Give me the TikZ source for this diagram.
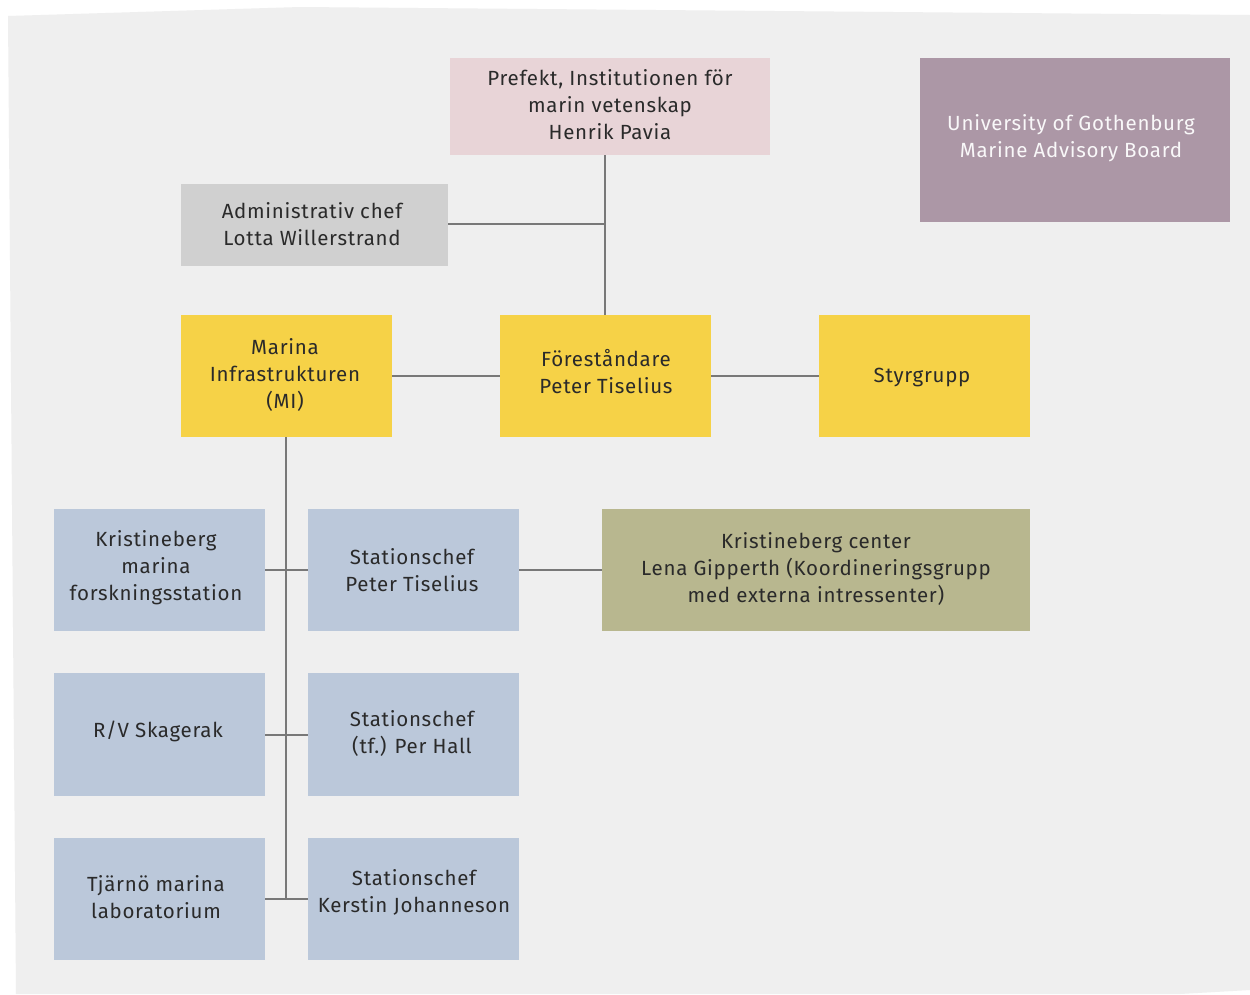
\documentclass[tikz,border=0pt]{standalone}
\usepackage{fontspec}
\setmainfont{Fira Sans}[LetterSpace=3.5]
\definecolor{bgc}{HTML}{EFEFEF}
\definecolor{pinkc}{HTML}{E8D4D7}
\definecolor{mauvec}{HTML}{AC97A6}
\definecolor{greyc}{HTML}{D0D0D0}
\definecolor{yelc}{HTML}{F6D247}
\definecolor{bluec}{HTML}{BBC8DA}
\definecolor{olivec}{HTML}{B8B78F}
\definecolor{linec}{HTML}{787878}
\definecolor{txtc}{HTML}{2A2A2A}
\begin{document}
\begin{tikzpicture}[x=1pt,y=-1pt,
  box/.style={draw=none,inner sep=0pt,align=center,text=txtc,
    font=\fontsize{20.5}{27}\selectfont},
  conn/.style={draw=linec,line width=2pt}]
\useasboundingbox (0,0) rectangle (1250,994);
\fill[white] (0,0) rectangle (1250,994);
\fill[bgc] (8,16) -- (300,7) -- (1250,15) -- (1250,990) -- (1180,994) -- (16,994) -- cycle;
% boxes
\newcommand\orgbox[6]{% name, color, x1,y1,x2,y2
  \path[fill=#2] (#3,#4) rectangle (#5,#6);
  \coordinate (#1-nw) at (#3,#4);
  \coordinate (#1-se) at (#5,#6);
}
\orgbox{pre}{pinkc}{450}{58}{770}{155}
\orgbox{mab}{mauvec}{920}{58}{1230}{222}
\orgbox{adm}{greyc}{181}{184}{448}{266}
\orgbox{mi}{yelc}{181}{315}{392}{437}
\orgbox{fo}{yelc}{500}{315}{711}{437}
\orgbox{sty}{yelc}{819}{315}{1030}{437}
\orgbox{kms}{bluec}{54}{509}{265}{631}
\orgbox{sc1}{bluec}{308}{509}{519}{631}
\orgbox{kc}{olivec}{602}{509}{1030}{631}
\orgbox{rv}{bluec}{54}{673}{265}{796}
\orgbox{sc2}{bluec}{308}{673}{519}{796}
\orgbox{tj}{bluec}{54}{838}{265}{960}
\orgbox{sc3}{bluec}{308}{838}{519}{960}
% text nodes
\node[box] (pre) at (610,105) {Prefekt, Institutionen för\\marin vetenskap\\Henrik Pavia};
\node[box,text=white!93!mauvec] (mab) at (1071,138) {University of Gothenburg\\Marine Advisory Board};
\node[box] (adm) at (312,224) {Administrativ chef\\Lotta Willerstrand};
\node[box] (mi) at (285,375) {Marina\\Infrastrukturen\\(MI)};
\node[box] (fo) at (606,372) {Föreståndare\\Peter Tiselius};
\node[box] (sty) at (922,377) {Styrgrupp};
\node[box] (kms) at (156,568) {Kristineberg\\marina\\forskningsstation};
\node[box] (sc1) at (412,570) {Stationschef\\Peter Tiselius};
\node[box] (kc) at (816,569) {Kristineberg center\\Lena Gipperth (Koordineringsgrupp\\med externa intressenter)};
\node[box] (rv) at (158,731) {R/V Skagerak};
\node[box] (sc2) at (412,733) {Stationschef\\(tf.) Per Hall};
\node[box] (tj) at (156,897) {Tjärnö marina\\laboratorium};
\node[box] (sc3) at (414,892) {Stationschef\\Kerstin Johanneson};
% connectors
\coordinate (j1) at (605,224);
\coordinate (mibot) at (286,437);
\coordinate (spine) at (286,899);
\coordinate (r1) at (286,570);
\coordinate (r2) at (286,735);
\draw[conn] (pre-nw -| j1) ++(0,97) -- (605,315) coordinate (fotop);
\draw[conn] (adm-se |- j1) -- (j1);
\draw[conn] (mi-se |- 0,376) -- (fo-nw |- 0,376);
\draw[conn] (fo-se |- 0,376) -- (sty-nw |- 0,376);
\draw[conn] (mibot) -- (spine);
\draw[conn] (kms-se |- r1) -- (sc1-nw |- r1);
\draw[conn] (kms-se |- r2) -- (sc1-nw |- r2);
\draw[conn] (kms-se |- spine) -- (sc1-nw |- spine);
\draw[conn] (sc1-se |- r1) -- (kc-nw |- r1);
\end{tikzpicture}
\end{document}
